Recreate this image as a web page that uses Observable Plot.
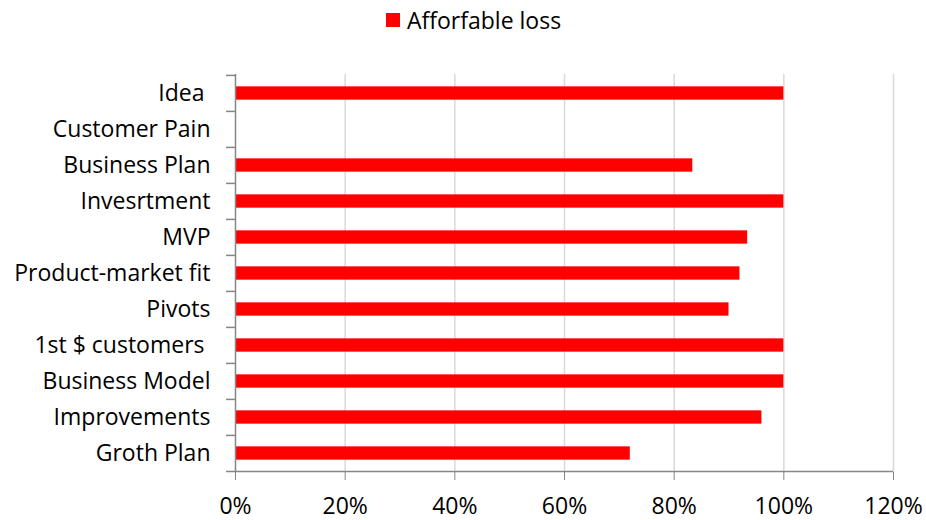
<!DOCTYPE html>
<html>
<head>
<meta charset="utf-8">
<script src="https://cdn.jsdelivr.net/npm/d3@7"></script>
<script src="https://cdn.jsdelivr.net/npm/@observablehq/plot@0.6"></script>
<style>
  body { margin: 0; background: #fff; }
  #wrap { position: relative; width: 926px; height: 520px; font-family: "Open Sans", Lato, sans-serif; }
  #legend { position: absolute; left: 386px; top: 5px; height: 30px; display: flex; align-items: center; font-size: 23px; color: #000; }
  #legend .sw { width: 14px; height: 14px; background: #ff0000; margin-right: 7px; }
  #chart { position: absolute; left: 0; top: 40px; }
</style>
</head>
<body>
<div id="wrap">
  <div id="legend"><span class="sw"></span><span>Afforfable loss</span></div>
  <div id="chart"></div>
</div>
<script>
const seriesName = "Afforfable loss";
const categories = ["Idea ", "Customer Pain", "Business Plan", "Invesrtment", "MVP", "Product-market fit", "Pivots", "1st $ customers ", "Business Model", "Improvements", "Groth Plan"];
const values = [1.00, 0, 0.834, 1.00, 0.934, 0.92, 0.90, 1.00, 1.00, 0.96, 0.72];
const xTicks = [0, 0.2, 0.4, 0.6, 0.8, 1.0, 1.2];

const data = categories.map((c, i) => ({category: c, value: values[i]}));

const W = 926, H = 480, mt = 34, mb = 48, ml = 235, mr = 33;
const step = (H - mt - mb) / categories.length;
const barH = 13.5;
const inset = (step - barH) / 2;
const axisColor = "#868686";
const font = "'Open Sans', Lato, sans-serif";

const chart = Plot.plot({
  width: W, height: H,
  marginTop: mt, marginBottom: mb, marginLeft: ml, marginRight: mr,
  style: {fontFamily: font, fontSize: "23px", color: "#000", background: "#fff"},
  x: {domain: [0, 1.2], axis: null, label: null},
  y: {domain: categories, padding: 0, axis: null, label: null},
  marks: [
    Plot.ruleX(xTicks.filter(d => d > 0), {stroke: "#d9d9d9", strokeWidth: 1.5}),
    Plot.barX(data.filter(d => d.value > 0), {x: "value", y: "category", fill: "#ff0000", insetTop: inset, insetBottom: inset}),
    Plot.ruleX([0], {stroke: axisColor, strokeWidth: 1.5}),
    Plot.ruleY(categories, {y: d => d, x1: 0, x2: 0, insetLeft: -9, dy: -step / 2, stroke: axisColor, strokeWidth: 1.5}),
    Plot.ruleY([categories[categories.length - 1]], {y: d => d, x1: 0, x2: 1.2, insetLeft: -9, dy: step / 2, stroke: axisColor, strokeWidth: 1.5}),
    Plot.axisX({ticks: xTicks, tickFormat: d => Math.round(d * 100) + "%", tickSize: 8, tickPadding: 17, stroke: axisColor, fill: "#000", fontSize: 23, label: null}),
    Plot.axisY({tickSize: 0, tickPadding: 25, fill: "#000", fontSize: 23, label: null})
  ]
});
document.getElementById("chart").appendChild(chart);
</script>
</body>
</html>
